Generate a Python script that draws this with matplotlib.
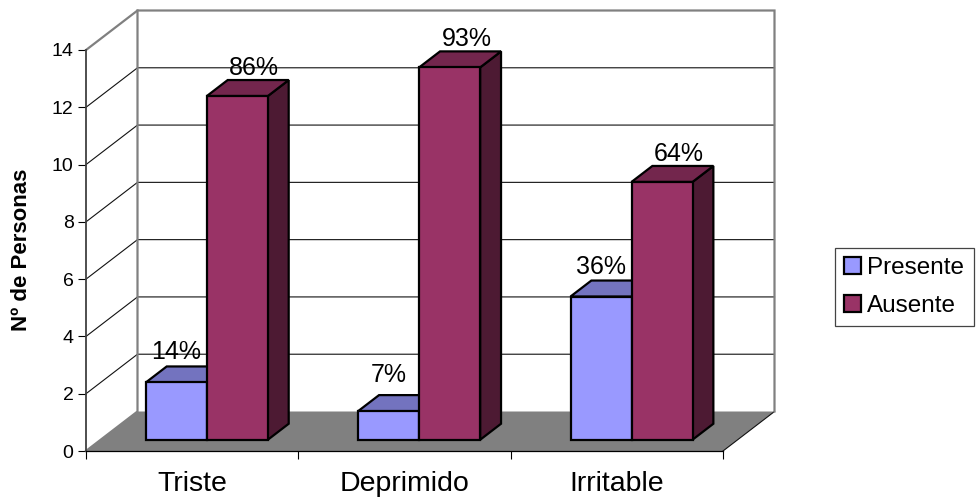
import matplotlib
matplotlib.use("Agg")
import matplotlib.pyplot as plt
import numpy as np
from matplotlib.patches import Patch, Polygon

plt.rcParams["font.family"] = ["Liberation Sans", "DejaVu Sans"]

# Data
categories = ["Triste", "Deprimido", "Irritable"]
presente = [2, 1, 5]
ausente = [12, 13, 9]
presente_pct = ["14%", "7%", "36%"]
ausente_pct = ["86%", "93%", "64%"]
y_ticks = [0, 2, 4, 6, 8, 10, 12, 14]

W, H = 976, 497
# front plane of the 3d box, in pixels
left, right, bottom, top = 86, 723, 451, 50
ymax = 14

fig = plt.figure(figsize=(W / 100, H / 100), dpi=100)
ax = fig.add_axes([left / W, 1 - bottom / H, (right - left) / W, (bottom - top) / H])
ax.set_xlim(0, len(categories))
ax.set_ylim(0, ymax)
ax.patch.set_visible(False)

# depth of the box expressed in data units
px_x = len(categories) / (right - left)
px_y = ymax / (bottom - top)
depth_x = 51.5 * px_x
depth_y = 39.5 * px_y


def pt(x, y, d=0.0):
    # project a point at depth d (0 = front, 1 = back wall)
    return (x + d * depth_x, y + d * depth_y)


def poly(points, **kw):
    kw.setdefault("clip_on", False)
    ax.add_patch(Polygon(points, closed=True, **kw))


n = len(categories)
GRAY = "#808080"

# floor
poly([pt(0, 0), pt(n, 0), pt(n, 0, 1), pt(0, 0, 1)], fc=GRAY, ec="none", zorder=1)
ax.plot(*zip(pt(n, 0), pt(n, 0, 1)), color="#111111", lw=0.8, clip_on=False, zorder=1.5)

# grid on the side wall and on the back wall
for v in y_ticks[1:-1]:
    ax.plot(*zip(pt(0, v), pt(0, v, 1), pt(n, v, 1)), color="#111111", lw=0.8,
            clip_on=False, zorder=1.5)

# frame of the walls
ax.plot(*zip(pt(0, ymax), pt(0, ymax, 1), pt(n, ymax, 1), pt(n, 0, 1)), color=GRAY,
        lw=1.6, clip_on=False, zorder=2, solid_joinstyle="miter")
ax.plot(*zip(pt(0, 0), pt(0, 0, 1), pt(0, ymax, 1)), color=GRAY, lw=1.6,
        clip_on=False, zorder=2, solid_joinstyle="miter")

# bars
bar_w = 61 * px_x
d_front, d_back = 0.285, 0.69


def bar3d(x0, value, face, top_c, side_c, z):
    x1 = x0 + bar_w
    style = dict(ec="black", lw=1.6, zorder=z, joinstyle="miter")
    poly([pt(x1, 0, d_front), pt(x1, 0, d_back), pt(x1, value, d_back), pt(x1, value, d_front)],
         fc=side_c, **style)
    poly([pt(x0, value, d_front), pt(x1, value, d_front), pt(x1, value, d_back), pt(x0, value, d_back)],
         fc=top_c, **style)
    poly([pt(x0, 0, d_front), pt(x1, 0, d_front), pt(x1, value, d_front), pt(x0, value, d_front)],
         fc=face, **style)


for i in range(n):
    bar3d(i + 0.5 - bar_w, presente[i], "#9999FF", "#7373BF", "#4D4D80", 3 + i)
    bar3d(i + 0.5, ausente[i], "#993366", "#73264D", "#4D1A33", 3.5 + i)
    ax.annotate(presente_pct[i], pt(i + 0.5 - bar_w / 2, presente[i], d_front),
                xytext=(0, 30 if presente[i] != 1 else 36), textcoords="offset pixels",
                ha="center", va="center", fontsize=18, zorder=10, annotation_clip=False)
    ax.annotate(ausente_pct[i], pt(i + 0.5 + bar_w / 2, ausente[i], d_front),
                xytext=(17, 28), textcoords="offset pixels",
                ha="center", va="center", fontsize=18, zorder=10, annotation_clip=False)

# axes
for s in ["top", "right"]:
    ax.spines[s].set_visible(False)
ax.spines["bottom"].set_linewidth(0.9)
ax.spines["left"].set_linewidth(1.3)
ax.spines["left"].set_color("#404040")
for s in ["left", "bottom"]:
    ax.spines[s].set_zorder(2.5)
ax.set_yticks(y_ticks)
ax.set_xticks(np.arange(n + 1))
ax.set_xticklabels([])
ax.set_xticks(np.arange(n) + 0.5, minor=True)
ax.set_xticklabels(categories, minor=True, fontsize=20.5)
ax.tick_params(axis="x", which="minor", length=0, pad=14.5)
ax.tick_params(axis="x", which="major", length=6, width=0.8)
ax.tick_params(axis="y", length=6, width=0.8, labelsize=14, pad=3)

fig.text(22 / W, 1 - 250 / H, "Nº de Personas", rotation=90, fontsize=16,
         fontweight="bold", ha="center", va="center")

# legend
handles = [Patch(fc="#9999FF", ec="black", lw=1.6, label="Presente"),
           Patch(fc="#993366", ec="black", lw=1.6, label="Ausente")]
leg = fig.legend(handles=handles, loc="upper left",
                 bbox_to_anchor=(835 / W, 1 - 248 / H), bbox_transform=fig.transFigure,
                 fontsize=17.5, frameon=True, fancybox=False, edgecolor="#444444",
                 framealpha=1, borderaxespad=0, borderpad=0.38, labelspacing=0.64,
                 handlelength=0.7, handleheight=0.7, handletextpad=0.25)
leg.get_frame().set_linewidth(0.9)

fig.savefig("out.png", dpi=100)
